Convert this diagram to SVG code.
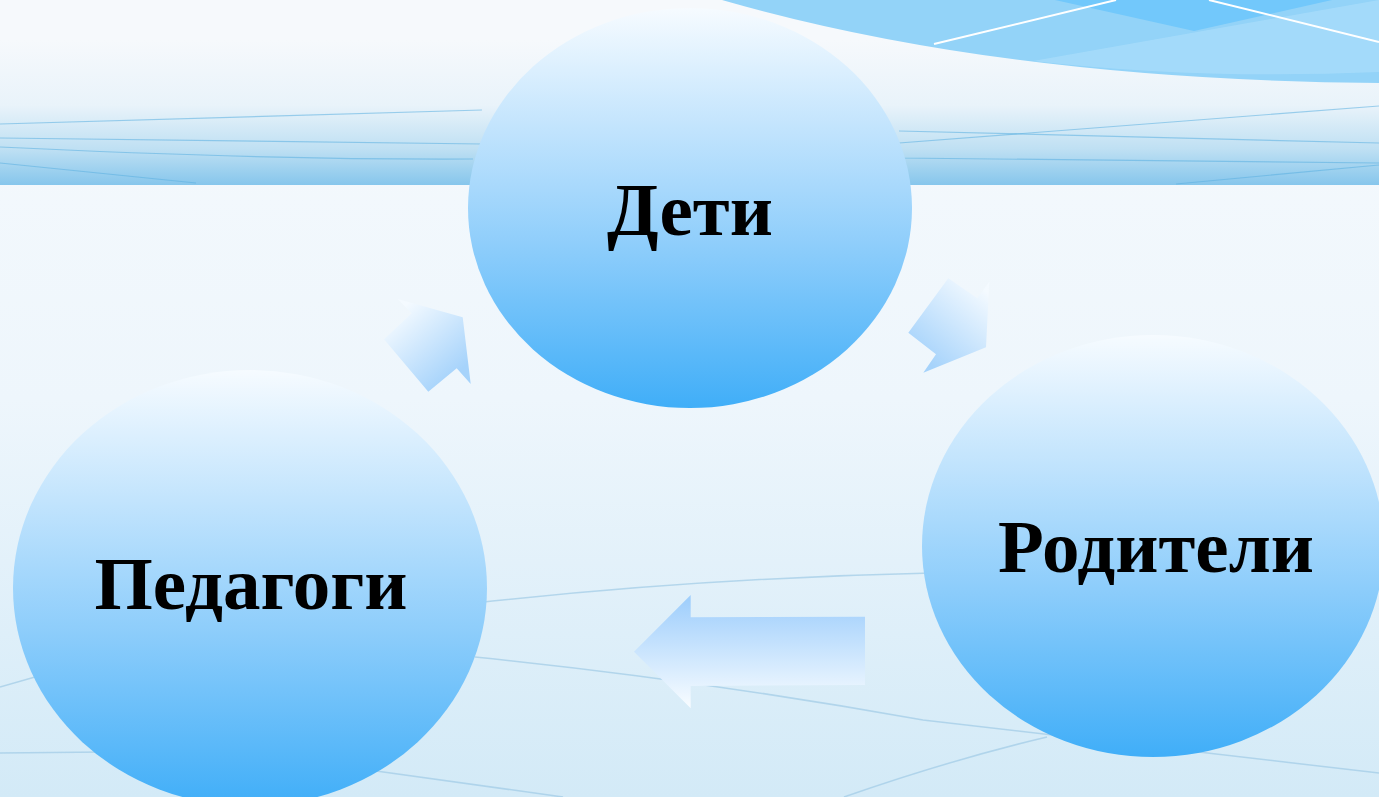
<svg xmlns="http://www.w3.org/2000/svg" width="1379" height="797" viewBox="0 0 1379 797">
<defs>
<style>
.lbl{font-family:"Liberation Serif","Times New Roman",serif;font-weight:bold;font-size:75px;fill:#000;text-anchor:middle}
.bl{fill:none;stroke:#5aaee0;stroke-width:1.2;opacity:.55}
.bgl{fill:none;stroke:#9fcbe6;stroke-width:1.5;opacity:.7}
</style>
<linearGradient id="bg" x1="0" y1="0" x2="0" y2="1">
<stop offset="0" stop-color="#f6fafd"/><stop offset="0.5" stop-color="#eef6fc"/><stop offset="1" stop-color="#d3eaf7"/>
</linearGradient>
<linearGradient id="band" gradientUnits="userSpaceOnUse" x1="0" y1="40" x2="0" y2="185">
<stop offset="0" stop-color="#f6f9fc"/><stop offset="0.45" stop-color="#e9f3fa"/><stop offset="0.75" stop-color="#bfe0f3"/><stop offset="1" stop-color="#86c6ec"/>
</linearGradient>
<linearGradient id="node" x1="0" y1="0" x2="0" y2="1">
<stop offset="0" stop-color="#f6fbff"/><stop offset="0.3" stop-color="#c2e4fd"/><stop offset="0.6" stop-color="#8dcdfb"/><stop offset="1" stop-color="#40aef8"/>
</linearGradient>
<linearGradient id="a1" gradientUnits="userSpaceOnUse" x1="400" y1="310" x2="455" y2="375">
<stop offset="0" stop-color="#f4faff"/><stop offset="1" stop-color="#a6d3fb"/>
</linearGradient>
<linearGradient id="a2" gradientUnits="userSpaceOnUse" x1="985" y1="290" x2="925" y2="360">
<stop offset="0" stop-color="#f4faff"/><stop offset="1" stop-color="#a6d3fb"/>
</linearGradient>
<linearGradient id="a3" gradientUnits="userSpaceOnUse" x1="0" y1="600" x2="0" y2="705">
<stop offset="0" stop-color="#a0cffc"/><stop offset="1" stop-color="#f6fbff"/>
</linearGradient>
</defs>
<rect width="1379" height="797" fill="url(#bg)"/>
<g id="background">
<path class="bgl" d="M475 603 Q700 578 932 573"/>
<path class="bgl" d="M475 657 Q700 680 923 720 L1379 773"/>
<path class="bgl" d="M844 797 Q950 760 1047 737"/>
<path class="bgl" d="M0 753 L105 752"/>
<path class="bgl" d="M0 687 L35 677"/>
<path class="bgl" d="M369 770 L563 797"/>
<rect x="0" y="0" width="1379" height="185" fill="url(#band)"/>
<path class="bl" d="M0 124 L482 110"/>
<path class="bl" d="M0 138 L482 144 L899 158 L1379 163"/>
<path class="bl" d="M0 147 Q268 160 473 159"/>
<path class="bl" d="M0 163 L196 183"/>
<path class="bl" d="M899 131 L1379 143"/>
<path class="bl" d="M899 143 L1379 106"/>
<path class="bl" d="M1176 184 L1379 165"/>
<path d="M722 0 Q1000 80 1379 83 L1379 0 Z" fill="#93d3f8"/>
<path d="M1033 61 L1379 0 L1379 72 Q1200 80 1033 61 Z" fill="#a8dcfa" opacity="0.8"/>
<path d="M1055 0 L1194 31 L1332 0 Z" fill="#72c8fb"/>
<path d="M934 44 L1116 0" stroke="#ffffff" stroke-width="2" fill="none"/>
<path d="M1209 0 L1379 42" stroke="#ffffff" stroke-width="2" fill="none"/>
</g>
<g id="connectors">
<polygon points="462.7,317.3 470.7,384 456.7,368.3 428.3,391.7 384,339.3 411.7,313.3 397.7,299" fill="url(#a1)"/>
<polygon points="948.3,278.3 977.3,298.3 989.3,281.7 986,347.3 923.3,372.7 936,354.3 908.3,332.7" fill="url(#a2)"/>
<polygon points="690.7,595 690.7,617.3 865,616.7 865,685 690.7,686 690.7,708.3 634,651.7" fill="url(#a3)"/>
</g>
<g id="node-deti">
<ellipse cx="690" cy="208" rx="222" ry="200" fill="url(#node)"/>
<text class="lbl" x="690" y="235">Дети</text>
</g>
<g id="node-roditeli">
<ellipse cx="1153" cy="546" rx="231" ry="211" fill="url(#node)"/>
<text class="lbl" x="1156" y="572">Родители</text>
</g>
<g id="node-pedagogi">
<ellipse cx="250" cy="588" rx="237" ry="218" fill="url(#node)"/>
<text class="lbl" x="251" y="609">Педагоги</text>
</g>
</svg>
